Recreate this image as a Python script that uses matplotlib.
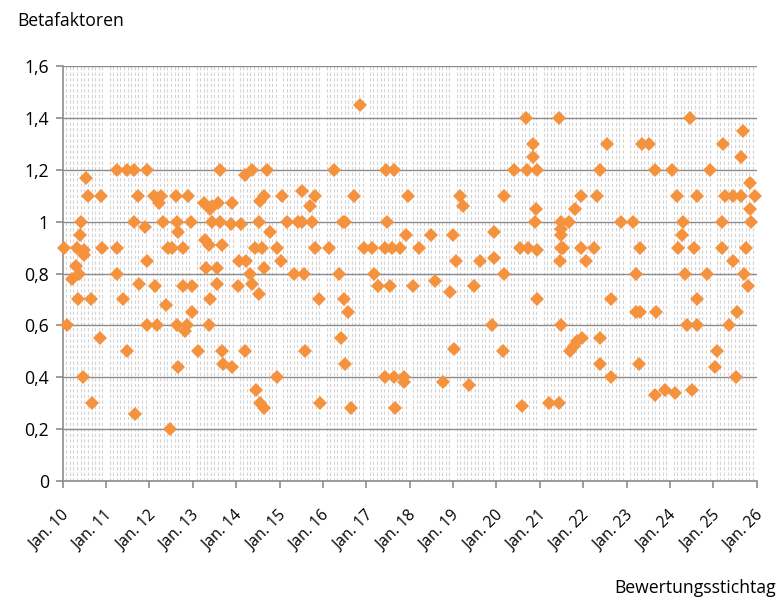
import numpy as np
import pandas as pd
import matplotlib
matplotlib.use("Agg")
import matplotlib.pyplot as plt
import matplotlib.dates as mdates
import matplotlib.transforms as mtransforms
from matplotlib.ticker import FuncFormatter

plt.rcParams["font.family"] = ["Open Sans", "DejaVu Sans"]

# valuation dates as decimal years
stichtag = [
    2010.02, 2010.09, 2010.22, 2010.30, 2010.38, 2010.36, 2010.34, 2010.42, 2010.40, 2010.46,
    2010.50, 2010.50, 2010.53, 2010.59, 2010.65, 2010.67, 2010.85, 2010.88, 2010.91,
    2011.25, 2011.25, 2011.25, 2011.40, 2011.49, 2011.49, 2011.65, 2011.65, 2011.67, 2011.73,
    2011.75, 2011.90, 2011.95, 2011.94, 2011.95,
    2012.11, 2012.18, 2012.13, 2012.22, 2012.26, 2012.31, 2012.38, 2012.44, 2012.48, 2012.52,
    2012.62, 2012.63, 2012.67, 2012.63, 2012.67, 2012.78, 2012.78, 2012.81, 2012.86, 2012.90,
    2012.95, 2012.98, 2012.98,
    2013.12, 2013.25, 2013.39, 2013.28, 2013.30, 2013.38, 2013.40, 2013.38, 2013.44, 2013.44,
    2013.55, 2013.55, 2013.59, 2013.63, 2013.67, 2013.69, 2013.67, 2013.63, 2013.90, 2013.88,
    2013.90,
    2014.06, 2014.03, 2014.10, 2014.22, 2014.21, 2014.21, 2014.36, 2014.32, 2014.36, 2014.44,
    2014.46, 2014.52, 2014.52, 2014.55, 2014.59, 2014.55, 2014.63, 2014.65, 2014.65, 2014.72,
    2014.78, 2014.95, 2014.95,
    2015.04, 2015.05, 2015.17, 2015.34, 2015.42, 2015.52, 2015.52, 2015.57, 2015.59, 2015.71,
    2015.75, 2015.82, 2015.82, 2015.92, 2015.94,
    2016.13, 2016.25, 2016.36, 2016.42, 2016.46, 2016.52, 2016.48, 2016.52, 2016.58, 2016.65,
    2016.71, 2016.86, 2016.94,
    2017.13, 2017.18, 2017.28, 2017.44, 2017.45, 2017.48, 2017.44, 2017.55, 2017.59, 2017.63,
    2017.63, 2017.65, 2017.77, 2017.86, 2017.86, 2017.92, 2017.95,
    2018.08, 2018.21, 2018.50, 2018.58, 2018.77, 2018.92,
    2019.00, 2019.03, 2019.07, 2019.17, 2019.22, 2019.36, 2019.48, 2019.63, 2019.90, 2019.94,
    2019.95,
    2020.15, 2020.17, 2020.18, 2020.40, 2020.54, 2020.59, 2020.69, 2020.71, 2020.72, 2020.84,
    2020.84, 2020.94, 2020.92, 2020.88, 2020.94, 2020.94,
    2021.21, 2021.44, 2021.44, 2021.48, 2021.48, 2021.48, 2021.48, 2021.54, 2021.46, 2021.48,
    2021.67, 2021.69, 2021.78, 2021.86, 2021.98, 2021.81, 2021.94, 2021.94,
    2022.07, 2022.25, 2022.32, 2022.38, 2022.38, 2022.38, 2022.55, 2022.63, 2022.65, 2022.88,
    2023.15, 2023.22, 2023.31, 2023.21, 2023.32, 2023.28, 2023.35, 2023.52, 2023.65, 2023.67,
    2023.65, 2023.88,
    2024.05, 2024.12, 2024.17, 2024.18, 2024.28, 2024.30, 2024.36, 2024.40, 2024.46, 2024.52,
    2024.55, 2024.62, 2024.63, 2024.63, 2024.85, 2024.92,
    2025.03, 2025.09, 2025.21, 2025.21, 2025.23, 2025.28, 2025.35, 2025.46, 2025.46, 2025.55,
    2025.52, 2025.63, 2025.63, 2025.68, 2025.71, 2025.76, 2025.81, 2025.84, 2025.84, 2025.86,
    2025.96,
]

beta = [
    0.90, 0.60, 0.78, 0.83, 0.80, 0.70, 0.90, 1.00, 0.95, 0.40,
    0.89, 0.87, 1.17, 1.10, 0.70, 0.30, 0.55, 1.10, 0.90,
    1.20, 0.90, 0.80, 0.70, 1.20, 0.50, 1.20, 1.00, 0.26, 1.10,
    0.76, 0.98, 1.20, 0.85, 0.60,
    1.10, 0.60, 0.75, 1.07, 1.10, 1.00, 0.68, 0.90, 0.20, 0.90,
    1.10, 1.00, 0.96, 0.60, 0.44, 0.90, 0.75, 0.58, 0.60, 1.10,
    1.00, 0.75, 0.65,
    0.50, 1.07, 1.05, 0.93, 0.82, 0.91, 0.70, 0.60, 1.00, 1.06,
    0.82, 0.76, 1.07, 1.20, 0.50, 0.45, 0.91, 1.00, 1.07, 0.99,
    0.44,
    0.85, 0.75, 0.99, 0.85, 0.50, 1.18, 1.20, 0.80, 0.76, 0.90,
    0.35, 0.72, 1.00, 1.08, 0.90, 0.30, 0.28, 0.82, 1.10, 1.20,
    0.96, 0.90, 0.40,
    0.85, 1.10, 1.00, 0.80, 1.00, 1.00, 1.12, 0.80, 0.50, 1.06,
    1.00, 1.10, 0.90, 0.70, 0.30,
    0.90, 1.20, 0.80, 0.55, 1.00, 1.00, 0.70, 0.45, 0.65, 0.28,
    1.10, 1.45, 0.90,
    0.90, 0.80, 0.75, 0.90, 1.20, 1.00, 0.40, 0.75, 0.90, 1.20,
    0.40, 0.28, 0.90, 0.40, 0.38, 0.95, 1.10,
    0.75, 0.90, 0.95, 0.77, 0.38, 0.73,
    0.95, 0.51, 0.85, 1.10, 1.06, 0.37, 0.75, 0.85, 0.60, 0.96,
    0.86,
    0.50, 0.80, 1.10, 1.20, 0.90, 0.29, 1.40, 1.20, 0.90, 1.30,
    1.25, 1.20, 1.05, 1.00, 0.89, 0.70,
    0.30, 1.40, 0.30, 1.00, 0.97, 0.95, 0.90, 0.90, 0.85, 0.60,
    1.00, 0.50, 0.52, 0.54, 0.55, 1.05, 1.10, 0.90,
    0.85, 0.90, 1.10, 1.20, 0.55, 0.45, 1.30, 0.70, 0.40, 1.00,
    1.00, 0.80, 0.90, 0.65, 0.65, 0.45, 1.30, 1.30, 1.20, 0.65,
    0.33, 0.35,
    1.20, 0.34, 1.10, 0.90, 0.95, 1.00, 0.80, 0.60, 1.40, 0.35,
    0.90, 0.60, 1.10, 0.70, 0.80, 1.20,
    0.44, 0.50, 1.00, 0.90, 1.30, 1.10, 0.60, 0.85, 1.10, 0.65,
    0.40, 1.10, 1.25, 1.35, 0.80, 0.90, 0.75, 1.15, 1.05, 1.00,
    1.10,
]


def to_date(y):
    yr = int(y)
    return pd.Timestamp(yr, 1, 1) + pd.Timedelta(days=(y - yr) * 365.25)


dates = [to_date(y) for y in stichtag]

fig = plt.figure(figsize=(7.78, 5.97), dpi=100)
ax = fig.add_axes([0.0806, 0.1943, 0.892, 0.6951])

ax.plot(dates, beta, linestyle="none", marker="D", markersize=6.8,
        color="#F5923E", markeredgewidth=0, clip_on=False, zorder=3)

ax.set_xlim(pd.Timestamp(2010, 1, 1), pd.Timestamp(2026, 1, 1))
ax.set_ylim(0, 1.6)
ax.set_yticks(np.arange(0, 1.61, 0.2))
ax.yaxis.set_major_formatter(FuncFormatter(lambda v, p: f"{round(v, 1):g}".replace(".", ",")))

ax.xaxis.set_major_locator(mdates.YearLocator())
ax.xaxis.set_minor_locator(mdates.MonthLocator())
ax.xaxis.set_major_formatter(mdates.DateFormatter("Jan. %y"))

ax.grid(axis="y", which="major", color="#8c8c8c", linewidth=1.0)
ax.grid(axis="x", which="minor", color="#d4d4d4", linewidth=0.8, linestyle=(0, (3, 2)))
ax.set_axisbelow(True)

for s in ["top", "right"]:
    ax.spines[s].set_visible(False)
for s in ["left", "bottom"]:
    ax.spines[s].set_color("#8c8c8c")
    ax.spines[s].set_linewidth(1.2)

fs = 12.7
ax.tick_params(axis="x", which="major", length=5, width=1.2, color="#8c8c8c",
               labelsize=11.3, pad=18)
ax.tick_params(axis="x", which="minor", length=0)
ax.tick_params(axis="y", length=5, width=1.2, color="#8c8c8c", labelsize=fs, pad=5)
shift = mtransforms.ScaledTranslation(4 / 100, 0, fig.dpi_scale_trans)
for lab in ax.get_xticklabels():
    lab.set_rotation(45)
    lab.set_ha("right")
    lab.set_va("center")
    lab.set_rotation_mode("anchor")
    lab.set_transform(lab.get_transform() + shift)

fig.text(0.022, 0.965, "Betafaktoren", fontsize=fs, va="center", ha="left")
fig.text(0.997, 0.015, "Bewertungsstichtag", fontsize=fs, va="center", ha="right")

fig.savefig("out.png", dpi=100)
